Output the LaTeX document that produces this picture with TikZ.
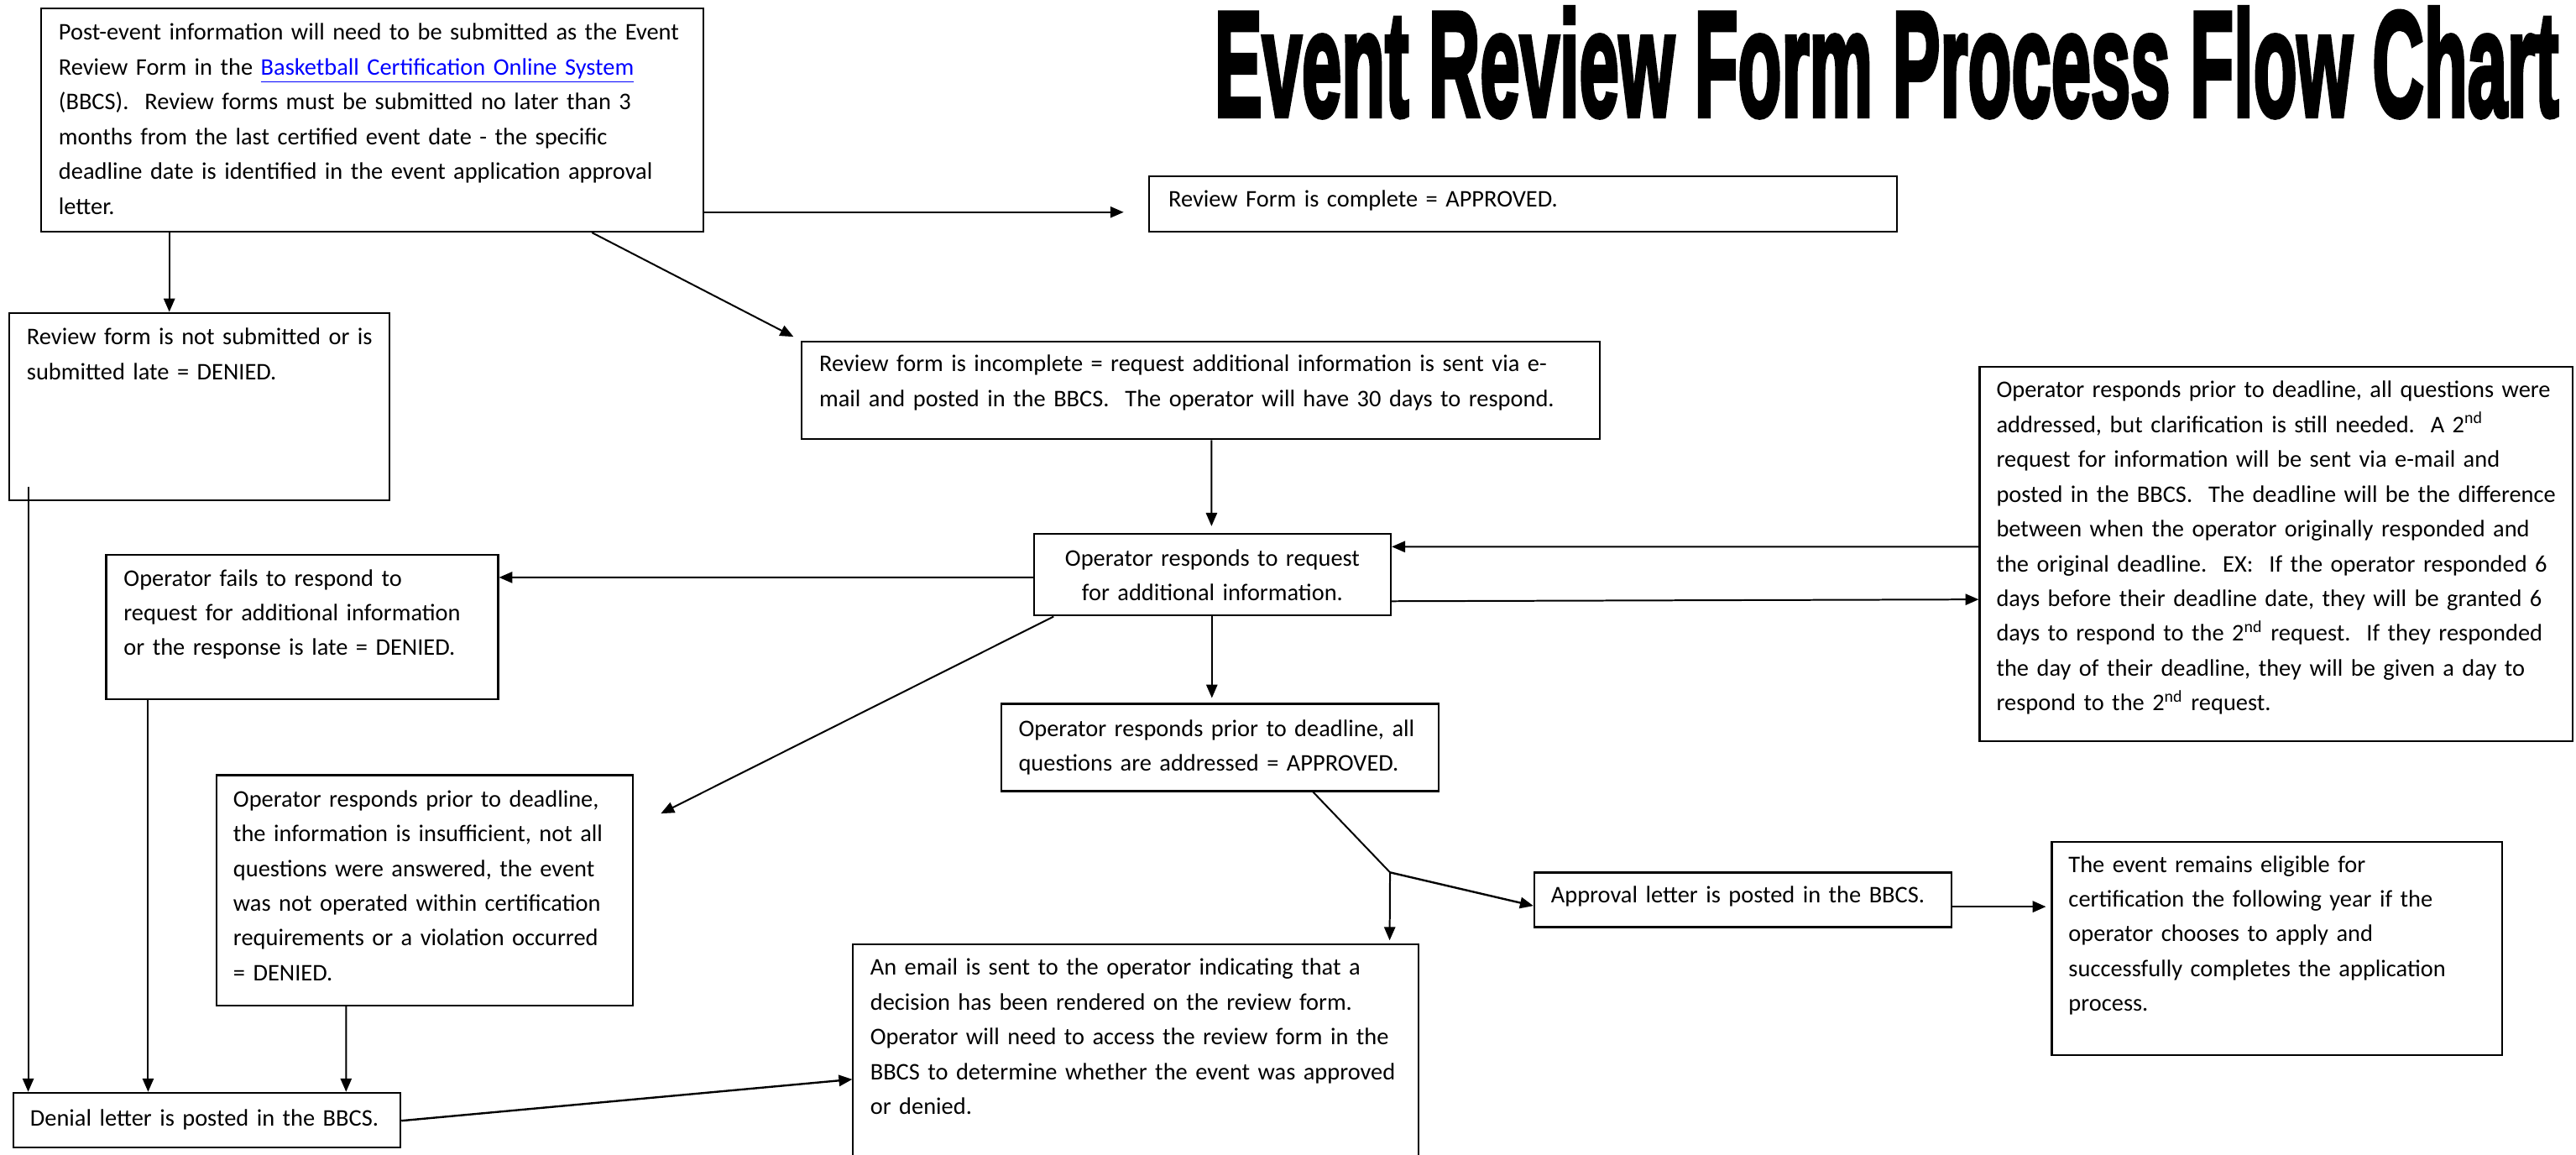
\documentclass[tikz,border=0pt]{standalone}
\usepackage{fontspec}
\setmainfont{Carlito}
\newfontfamily\titlefont[BoldFeatures={FakeBold=3.5}]{Liberation Sans}
\usetikzlibrary{arrows.meta,fit,calc}
\definecolor{linkblue}{RGB}{0,0,255}
\begin{document}
\begin{tikzpicture}[x=0.737pt, y=-0.737pt,
  box/.style={draw, line width=0.8pt, inner sep=0pt},
  txt/.style={inner sep=0pt, align=left, anchor=base west, font=\fontsize{10.7pt}{15.6pt}\selectfont},
  ctxt/.style={inner sep=0pt, align=center, anchor=base, font=\fontsize{10.7pt}{15.6pt}\selectfont},
  arr/.style={line width=0.75pt, -{Triangle[length=6pt,width=5pt]}},
  ln/.style={line width=0.75pt}]
\clip (0,0) rectangle (1568,703);

% title
\node[inner sep=0pt, anchor=base west] (title) at (739,70.5)
  {\resizebox{603pt}{48.6pt}{\titlefont\bfseries Event Review Form Process Flow Chart}};

% boxes
\node[box, fit={(25,5) (428,141)}] (b1) {};
\node[box, fit={(699.5,107.3) (1154.7,141)}] (b2) {};
\node[box, fit={(5.6,190.4) (237,304.6)}] (b3) {};
\node[box, fit={(488,207.8) (974,267.4)}] (b4) {};
\node[box, fit={(1205,223.3) (1566,451)}] (b5) {};
\node[box, fit={(629.4,324.8) (846.6,374.7)}] (b6) {};
\node[box, fit={(64.6,337.8) (303.2,425.6)}] (b7) {};
\node[box, fit={(609.5,428.4) (875.7,481.5)}] (b8) {};
\node[box, fit={(131.9,471.8) (385.4,612)}] (b9) {};
\node[box, fit={(933.9,531.1) (1188,564.3)}] (b10) {};
\node[box, fit={(1248.9,512.3) (1522.8,642.1)}] (b11) {};
\node[box, fit={(519.3,574.9) (863.6,715)}] (b12) {};
\node[box, fit={(8.1,665.1) (243.8,698.4)}] (b13) {};

% texts
\node[txt, text width=290pt] at ($(b1.north west)+(11,20)$) {Post-event information will need to be submitted as the Event\\
Review Form in the \textcolor{linkblue}{\underline{Basketball Certification Online System}}\\
(BBCS).\ \ Review forms must be submitted no later than 3\\
months from the last certified event date - the specific\\
deadline date is identified in the event application approval\\
letter.};
\node[txt, text width=320pt] at ($(b2.north west)+(12,19)$) {Review Form is complete = APPROVED.};
\node[txt, text width=165pt] at ($(b3.north west)+(11,20)$) {Review form is not submitted or is\\submitted late = DENIED.};
\node[txt, text width=340pt] at ($(b4.north west)+(11,19)$) {Review form is incomplete = request additional information is sent via e-\\mail and posted in the BBCS.\ \ The operator will have 30 days to respond.};
\node[txt, text width=255pt] at ($(b5.north west)+(10.5,19.4)$) {Operator responds prior to deadline, all questions were\\
addressed, but clarification is still needed.\ \ A 2\textsuperscript{nd}\\
request for information will be sent via e-mail and\\
posted in the BBCS.\ \ The deadline will be the difference\\
between when the operator originally responded and\\
the original deadline.\ \ EX:\ \ If the operator responded 6\\
days before their deadline date, they will be granted 6\\
days to respond to the 2\textsuperscript{nd} request.\ \ If they responded\\
the day of their deadline, they will be given a day to\\
respond to the 2\textsuperscript{nd} request.};
\node[ctxt, text width=155pt] at ($(b6.north)+(0,20.2)$) {Operator responds to request\\for additional information.};
\node[txt, text width=170pt] at ($(b7.north west)+(11,19.4)$) {Operator fails to respond to\\request for additional information\\or the response is late = DENIED.};
\node[txt, text width=190pt] at ($(b8.north west)+(10.8,20.4)$) {Operator responds prior to deadline, all\\questions are addressed = APPROVED.};
\node[txt, text width=180pt] at ($(b9.north west)+(10.4,19.8)$) {Operator responds prior to deadline,\\the information is insufficient, not all\\questions were answered, the event\\was not operated within certification\\requirements or a violation occurred\\= DENIED.};
\node[txt, text width=180pt] at ($(b10.north west)+(10.5,19.1)$) {Approval letter is posted in the BBCS.};
\node[txt, text width=195pt] at ($(b11.north west)+(10.5,19.1)$) {The event remains eligible for\\certification the following year if the\\operator chooses to apply and\\successfully completes the application\\process.};
\node[txt, text width=245pt] at ($(b12.north west)+(10.7,19.2)$) {An email is sent to the operator indicating that a\\decision has been rendered on the review form.\\Operator will need to access the review form in the\\BBCS to determine whether the event was approved\\or denied.};
\node[txt, text width=170pt] at ($(b13.north west)+(10.5,21)$) {Denial letter is posted in the BBCS.};

% connectors
\coordinate (j) at (846.1,531);
\draw[arr, shorten >=15*0.737pt] ($(b1.south east)+(0,-12.4)$) -- ($(b2.south west)+(0,-12.4)$);
\draw[arr] ($(b1.south west)+(78.6,0)$) -- ($(b3.north west)+(98,0)$);
\draw[arr, shorten >=5*0.737pt] ($(b1.south west)+(335.8,0)$) -- (b4.north west);
\draw[arr, shorten >=4*0.737pt] ($(b4.south west)+(250,0)$) -- ($(b6.north west)+(108.6,0)$);
\draw[arr] ($(b5.north west)+(0,110)$) -- ($(b6.north east)+(0,8.5)$);
\draw[arr] ($(b6.south east)+(0,-9.3)$) -- ($(b5.north west)+(0,142.1)$);
\draw[arr] ($(b6.north west)+(0,27.2)$) -- ($(b7.north east)+(0,14.2)$);
\draw[arr] ($(b6.south west)+(12.5,0)$) -- ($(b9.north east)+(16.3,23.9)$);
\draw[arr, shorten >=3*0.737pt] ($(b6.south west)+(108.8,0)$) -- ($(b8.north west)+(128.7,0)$);
\draw[ln] ($(b8.south west)+(190.3,0)$) -- (j);
\draw[arr, shorten >=2*0.737pt] (j) -- ($(b12.north west)+(327.1,0)$);
\draw[arr, line width=0.9pt] (j) -- ($(b10.north west)+(0,20.8)$);
\draw[arr, line width=1pt, shorten >=3*0.737pt] ($(b10.north east)+(0,21.3)$) -- ($(b11.north west)+(0,40.1)$);
\draw[arr] ($(b3.south west)+(12.1,-9)$) -- ($(b13.north west)+(9.6,0)$);
\draw[arr] ($(b7.south west)+(26.1,0)$) -- ($(b13.north west)+(82.6,0)$);
\draw[arr] ($(b9.south west)+(79.3,0)$) -- ($(b13.north west)+(203.1,0)$);
\draw[arr, line width=0.9pt] ($(b13.north east)+(0,17.6)$) -- ($(b12.north west)+(0,82.6)$);
\end{tikzpicture}
\end{document}
